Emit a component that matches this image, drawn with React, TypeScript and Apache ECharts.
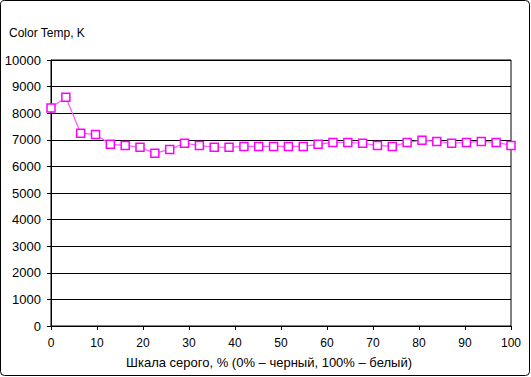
import React, { useEffect, useRef } from "react";
import * as echarts from "echarts";

const grayPct: number[] = [
  0, 3.23, 6.45, 9.68, 12.9, 16.13, 19.35, 22.58, 25.81, 29.03, 32.26, 35.48,
  38.71, 41.94, 45.16, 48.39, 51.61, 54.84, 58.06, 61.29, 64.52, 67.74, 70.97,
  74.19, 77.42, 80.65, 83.87, 87.1, 90.32, 93.55, 96.77, 100,
];
const colorTemp: number[] = [
  8200, 8600, 7250, 7200, 6830, 6790, 6720, 6490, 6640, 6870, 6790, 6720,
  6720, 6750, 6750, 6750, 6750, 6750, 6830, 6900, 6900, 6870, 6790, 6750,
  6900, 6980, 6940, 6870, 6900, 6940, 6900, 6790,
];
const titleText = "Color Temp, K";
const xAxisTitle = "Шкала серого, % (0% – черный, 100% – белый)";

export default function App() {
  const ref = useRef<HTMLDivElement>(null);
  useEffect(() => {
    if (!ref.current) return;
    const chart = echarts.init(ref.current, null, { renderer: "svg" });
    const font = "Liberation Sans, Arial, sans-serif";
    chart.setOption({
      animation: false,
      backgroundColor: "#ffffff",
      grid: {
        left: 51,
        right: 20,
        top: 60,
        bottom: 51,
        show: true,
        borderColor: "#000",
        borderWidth: 1,
      },
      graphic: [
        {
          type: "rect",
          shape: { x: 0.5, y: 0.5, width: 529, height: 375, r: 4 },
          style: { fill: "none", stroke: "#000", lineWidth: 1 },
          silent: true,
        },
        {
          type: "text",
          left: 9,
          top: 27,
          style: { text: titleText, font: `12px ${font}`, fill: "#000" },
        },
        {
          type: "text",
          x: 269,
          y: 362,
          style: {
            text: xAxisTitle,
            font: `13px ${font}`,
            fill: "#000",
            align: "center",
            verticalAlign: "middle",
          },
        },
      ],
      xAxis: {
        type: "value",
        min: 0,
        max: 100,
        interval: 10,
        axisLine: { show: true, lineStyle: { color: "#000", width: 1 } },
        axisTick: { show: true, length: 4, lineStyle: { color: "#000" } },
        axisLabel: { color: "#000", fontSize: 12, fontFamily: font, margin: 11 },
        splitLine: { show: false },
      },
      yAxis: {
        type: "value",
        min: 0,
        max: 10000,
        interval: 1000,
        axisLine: { show: true, lineStyle: { color: "#000", width: 1 } },
        axisTick: { show: true, length: 4, lineStyle: { color: "#000" } },
        axisLabel: {
          color: "#000",
          fontSize: 13,
          fontFamily: font,
          margin: 10,
          formatter: (v: number) => String(v),
        },
        splitLine: { show: true, lineStyle: { color: "#000", width: 1 } },
      },
      series: [
        {
          type: "line",
          data: grayPct.map((x, i) => [x, colorTemp[i]]),
          symbol: "rect",
          symbolSize: 8,
          lineStyle: { color: "#ff55ff", width: 1.2 },
          itemStyle: { color: "#ffffff", borderColor: "#ff00ff", borderWidth: 1.5 },
        },
      ],
    });
    return () => chart.dispose();
  }, []);
  return (
    <div
      ref={ref}
      style={{ position: "fixed", left: 0, top: 0, width: 531, height: 377 }}
    />
  );
}
